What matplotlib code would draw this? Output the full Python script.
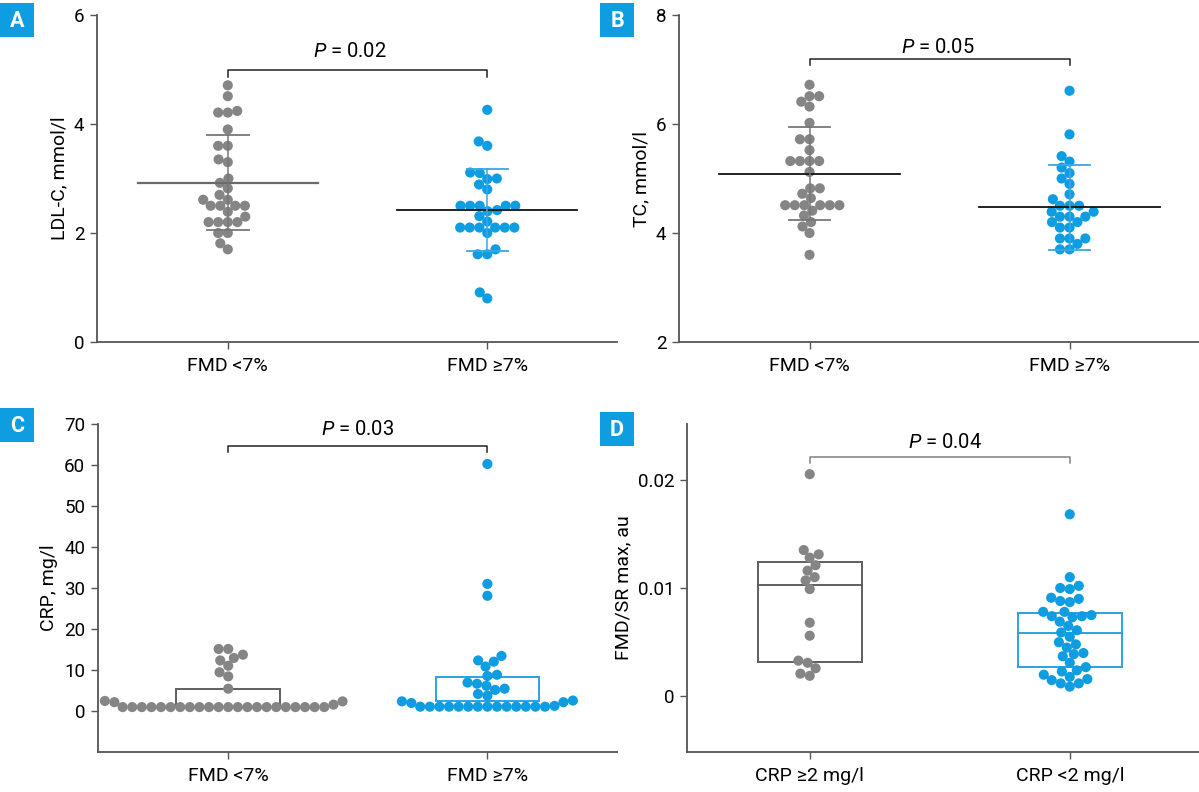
import numpy as np
import matplotlib.pyplot as plt
from matplotlib.patches import Rectangle

plt.rcParams['font.family'] = ['Roboto', 'DejaVu Sans']
plt.rcParams['mathtext.fontset'] = 'custom'
plt.rcParams['mathtext.it'] = 'Roboto:italic'
plt.rcParams['mathtext.rm'] = 'Roboto'

GRAY = '#858585'
BLUE = '#0d9de0'

fmd_labels = ['FMD <7%', 'FMD \u22657%']
crp_labels = ['CRP \u22652 mg/l', 'CRP <2 mg/l']

# A: LDL-C, mmol/l
ldl_low = [4.71, 4.51, 4.21, 4.21, 4.24, 3.90, 3.60, 3.60, 3.35, 3.30, 3.00, 2.92,
           2.82, 2.70, 2.61, 2.61, 2.50, 2.50, 2.50, 2.50, 2.39, 2.30, 2.20, 2.20,
           2.20, 2.20, 2.00, 2.00, 1.81, 1.70]
ldl_high = [4.26, 3.68, 3.60, 3.11, 3.10, 3.00, 2.99, 2.89, 2.80, 2.50, 2.50, 2.50,
            2.50, 2.50, 2.42, 2.40, 2.31, 2.21, 2.10, 2.10, 2.10, 2.10, 2.10, 2.10,
            2.00, 1.70, 1.61, 1.61, 0.91, 0.80]
ldl_mean = [2.92, 2.42]
ldl_sd = [0.87, 0.75]

# B: TC, mmol/l
tc_low = [6.72, 6.51, 6.51, 6.41, 6.32, 6.02, 5.72, 5.72, 5.52, 5.32, 5.32, 5.32,
          5.32, 5.12, 4.82, 4.82, 4.72, 4.64, 4.51, 4.51, 4.51, 4.51, 4.51, 4.51,
          4.41, 4.32, 4.20, 4.12, 4.00, 3.60]
tc_high = [6.61, 5.81, 5.41, 5.31, 5.20, 5.10, 5.00, 4.90, 4.71, 4.62, 4.50, 4.50,
           4.50, 4.39, 4.39, 4.30, 4.30, 4.30, 4.20, 4.20, 4.10, 4.10, 3.90, 3.90,
           3.90, 3.80, 3.70, 3.70]
tc_mean = [5.09, 4.47]
tc_sd = [0.85, 0.78]

# C: CRP, mg/l
crp_low = [15.1, 15.1, 13.7, 12.9, 12.3, 11.0, 9.4, 8.4, 5.4, 2.4, 2.3, 2.1, 1.5] + [0.9] * 22
crp_high = [60.3, 31.0, 28.1, 13.4, 12.3, 12.0, 10.8, 8.8, 8.5, 6.9, 6.6, 6.1, 5.4,
            5.1, 4.1, 3.7, 2.5, 2.3, 2.1, 1.9, 1.2] + [1.0] * 14
crp_q1 = [1.0, 2.3]
crp_med = [1.0, None]
crp_q3 = [5.4, 8.2]

# D: FMD/SR max, au
sr_high_crp = [0.0205, 0.0135, 0.0131, 0.0128, 0.0121, 0.0116, 0.0110, 0.0107, 0.0099,
               0.0068, 0.0056, 0.0033, 0.0031, 0.0026, 0.0021, 0.0019]
sr_low_crp = [0.0168, 0.0110, 0.0102, 0.0100, 0.0099, 0.0091, 0.0090, 0.0088, 0.0087,
              0.0078, 0.0078, 0.0075, 0.0074, 0.0074, 0.0073, 0.0069, 0.0065, 0.0061,
              0.0059, 0.0055, 0.0050, 0.0048, 0.0045, 0.0040, 0.0039, 0.0037, 0.0031,
              0.0027, 0.0024, 0.0023, 0.0020, 0.0018, 0.0016, 0.0015, 0.0012, 0.0012,
              0.0009]
sr_q1 = [0.00317, 0.00267]
sr_med = [0.0103, 0.00584]
sr_q3 = [0.01244, 0.00774]

W, H = 1199, 792
fig = plt.figure(figsize=(W / 100, H / 100), dpi=100)


def make_ax(left, top, right, bottom):
    return fig.add_axes([left / W, 1 - bottom / H, (right - left) / W, (bottom - top) / H])


def style(ax, ylim, yticks, ylabels, xlim, xlabels, ylabel):
    ax.set_xlim(*xlim)
    ax.set_ylim(*ylim)
    ax.set_yticks(yticks)
    ax.set_yticklabels(ylabels, fontsize=13.5)
    ax.set_xticks([0, 1])
    ax.set_xticklabels(xlabels, fontsize=14)
    ax.set_ylabel(ylabel, fontsize=14)
    for s in ['top', 'right']:
        ax.spines[s].set_visible(False)
    for s in ['left', 'bottom']:
        ax.spines[s].set_color('#555555')
        ax.spines[s].set_linewidth(1.3)
    ax.tick_params(axis='both', direction='out', length=5, width=1, color='#555555')
    ax.tick_params(axis='y', pad=4)
    ax.tick_params(axis='x', pad=6)


def swarm(ax, xc, vals, d=9.6):
    vals = np.asarray(vals, dtype=float)
    pts = ax.transData.transform(np.column_stack([np.full(len(vals), xc), vals]))
    ys = pts[:, 1]
    order = np.argsort(ys, kind='stable')
    placed = []
    offs = np.zeros(len(vals))
    for i in order:
        y = ys[i]
        near = [(px, py) for px, py in placed if abs(py - y) < d]
        cands = [0.0]
        for px, py in near:
            dx = np.sqrt(d ** 2 - (py - y) ** 2)
            cands += [px - dx, px + dx]
        cands.sort(key=lambda c: (round(abs(c), 3), c))
        for c in cands:
            if all((c - px) ** 2 + (y - py) ** 2 >= d ** 2 - 1e-6 for px, py in near):
                offs[i] = c
                placed.append((c, y))
                break
    x0 = pts[0, 0]
    xs = ax.transData.inverted().transform(np.column_stack([x0 + offs, ys]))[:, 0]
    return xs, vals


def dots(ax, xc, vals, color):
    xs, ys = swarm(ax, xc, vals)
    ax.scatter(xs, ys, s=7.3 ** 2, color=color, edgecolors='none', zorder=2)


def mean_sd(ax, xc, m, sd, mcolor, scolor, mlw):
    ax.plot([xc - 0.347, xc + 0.347], [m, m], color=mcolor, lw=mlw, zorder=3)
    ax.plot([xc, xc], [m - sd, m + sd], color=scolor, lw=1.1, zorder=3)
    for v in (m - sd, m + sd):
        ax.plot([xc - 0.08, xc + 0.08], [v, v], color=scolor, lw=1.3, zorder=3)


def box(ax, xc, q1, med, q3, color):
    w = 0.2
    ax.add_patch(Rectangle((xc - w, q1), 2 * w, q3 - q1, fill=False,
                           edgecolor=color, lw=1.4, zorder=1))
    if med is not None:
        ax.plot([xc - w, xc + w], [med, med], color=color, lw=1.4, zorder=1)


def bracket(ax, y, drop, ty, tx, text, color='#222222'):
    ax.plot([0, 0, 1, 1], [y - drop, y, y, y - drop], color=color, lw=1.1,
            clip_on=False, zorder=3)
    ax.text(tx, ty, text, ha='center', va='baseline', fontsize=14.5, clip_on=False)


def panel_label(letter, left, top):
    fig.add_artist(Rectangle((left / W, 1 - (top + 34) / H), 34 / W, 34 / H,
                             transform=fig.transFigure, color=BLUE, lw=0))
    fig.text((left + 17) / W, 1 - (top + 18) / H, letter, color='white',
             fontsize=15.5, fontweight='bold', ha='center', va='center')


# A
axA = make_ax(97, 15, 617, 342)
style(axA, (0, 6), [0, 2, 4, 6], ['0', '2', '4', '6'], (-0.504, 1.5), fmd_labels,
      'LDL-C, mmol/l')
dots(axA, 0, ldl_low, GRAY)
dots(axA, 1, ldl_high, BLUE)
mean_sd(axA, 0, ldl_mean[0], ldl_sd[0], '#6a6a6a', '#777777', 1.6)
mean_sd(axA, 1, ldl_mean[1], ldl_sd[1], '#111111', '#3aa6e4', 1.3)
bracket(axA, 5.0, 0.13, 5.23, 0.47, r'$\mathit{P}$ = 0.02')

# B
axB = make_ax(679, 15, 1199, 342)
style(axB, (2, 8), [2, 4, 6, 8], ['2', '4', '6', '8'], (-0.502, 1.498), fmd_labels,
      'TC, mmol/l')
dots(axB, 0, tc_low, GRAY)
dots(axB, 1, tc_high, BLUE)
mean_sd(axB, 0, tc_mean[0], tc_sd[0], '#111111', '#777777', 1.3)
mean_sd(axB, 1, tc_mean[1], tc_sd[1], '#111111', '#3aa6e4', 1.3)
bracket(axB, 7.19, 0.11, 7.3, 0.495, r'$\mathit{P}$ = 0.05')

# C
axC = make_ax(97.6, 424.3, 617, 751.7)
style(axC, (-10, 70), list(range(0, 71, 10)), [str(v) for v in range(0, 71, 10)],
      (-0.504, 1.5), fmd_labels, 'CRP, mg/l')
box(axC, 0, crp_q1[0], crp_med[0], crp_q3[0], '#5f5f5f')
box(axC, 1, crp_q1[1], crp_med[1], crp_q3[1], '#2aa2e2')
dots(axC, 0, crp_low, GRAY)
dots(axC, 1, crp_high, BLUE)
bracket(axC, 64.7, 1.5, 67.4, 0.5, r'$\mathit{P}$ = 0.03')

# D
axD = make_ax(687, 424.3, 1199, 751.7)
style(axD, (-0.0051, 0.0251), [0, 0.01, 0.02], ['0', '0.01', '0.02'], (-0.472, 1.497),
      crp_labels, 'FMD/SR max, au')
box(axD, 0, sr_q1[0], sr_med[0], sr_q3[0], '#5f5f5f')
box(axD, 1, sr_q1[1], sr_med[1], sr_q3[1], '#2aa2e2')
dots(axD, 0, sr_high_crp, GRAY)
dots(axD, 1, sr_low_crp, BLUE)
bracket(axD, 0.0221, 0.0006, 0.0229, 0.52, r'$\mathit{P}$ = 0.04', color='#808080')

panel_label('A', 0, 3)
panel_label('B', 600, 3)
panel_label('C', 0, 408)
panel_label('D', 600, 412)

fig.savefig('out.png', dpi=100, facecolor='white')
